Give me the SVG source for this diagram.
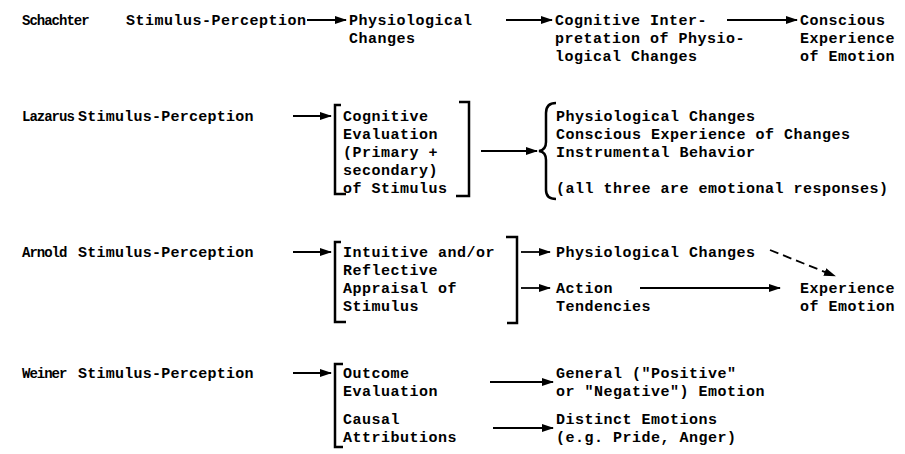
<svg xmlns="http://www.w3.org/2000/svg" width="905" height="454" viewBox="0 0 905 454">
<defs>
<marker id="ah" markerUnits="userSpaceOnUse" markerWidth="12" markerHeight="10" refX="11" refY="5" orient="auto">
<path d="M0,1 L12,5 L0,9 z" fill="#000"/>
</marker>
<style>
text { font-family: "Liberation Mono", "DejaVu Sans Mono", monospace; font-size: 15px; font-weight: bold; letter-spacing: 0.5px; fill: #000; }
text.n { font-size: 14px; letter-spacing: -1px; }
.c { stroke: #000; stroke-width: 1.8; fill: none; marker-end: url(#ah); }
.d { stroke-dasharray: 9 5; }
.br { stroke: #000; stroke-width: 2.5; fill: none; }
</style>
</defs>
<rect width="905" height="454" fill="#fff"/>

<g id="schachter">
<text class="n" x="22" y="25">Schachter</text>
<text x="126" y="25">Stimulus-Perception</text>
<text x="349" y="25">Physiological</text>
<text x="349" y="43">Changes</text>
<text x="555" y="25">Cognitive Inter-</text>
<text x="555" y="43">pretation of Physio-</text>
<text x="555" y="61">logical Changes</text>
<text x="800" y="25">Conscious</text>
<text x="800" y="43">Experience</text>
<text x="800" y="61">of Emotion</text>
</g>

<g id="lazarus">
<text class="n" x="22" y="121">Lazarus</text>
<text x="78" y="121" textLength="176">Stimulus-Perception</text>
<path class="br" d="M341,105 L335,105 L335,194 L346,194"/>
<text x="343" y="121">Cognitive</text>
<text x="343" y="139">Evaluation</text>
<text x="343" y="157">(Primary +</text>
<text x="343" y="175">secondary)</text>
<text x="343" y="193">of Stimulus</text>
<path class="br" d="M459,102 L469,102 L469,196 L456,196"/>
<path class="br" d="M556,103 Q546,103 546,113 L546,142 Q546,150 539,151 Q546,152 546,160 L546,190 Q546,199 556,199"/>
<text x="556" y="121">Physiological Changes</text>
<text x="556" y="139">Conscious Experience of Changes</text>
<text x="556" y="157">Instrumental Behavior</text>
<text x="556" y="193">(all three are emotional responses)</text>
</g>

<g id="arnold">
<text class="n" x="22" y="257">Arnold</text>
<text x="78" y="257" textLength="176">Stimulus-Perception</text>
<path class="br" d="M341,242 L335,242 L335,322 L346,322"/>
<text x="343" y="257">Intuitive and/or</text>
<text x="343" y="275">Reflective</text>
<text x="343" y="293">Appraisal of</text>
<text x="343" y="311">Stimulus</text>
<path class="br" d="M506,237 L517,237 L517,323 L507,323"/>
<text x="556" y="257">Physiological Changes</text>
<text x="556" y="293">Action</text>
<text x="556" y="311">Tendencies</text>
<text x="800" y="293">Experience</text>
<text x="800" y="311">of Emotion</text>
</g>

<g id="weiner">
<text class="n" x="22" y="378">Weiner</text>
<text x="78" y="378" textLength="176">Stimulus-Perception</text>
<path class="br" d="M343,364 L335,364 L335,447 L343,447"/>
<text x="343" y="378">Outcome</text>
<text x="343" y="396">Evaluation</text>
<text x="343" y="424">Causal</text>
<text x="343" y="442">Attributions</text>
<text x="556" y="378">General ("Positive"</text>
<text x="556" y="396">or "Negative") Emotion</text>
<text x="556" y="424">Distinct Emotions</text>
<text x="556" y="442">(e.g. Pride, Anger)</text>
</g>

<g id="connectors">
<path class="c" d="M307,20 L346,20"/>
<path class="c" d="M506,20 L552,20"/>
<path class="c" d="M727,20 L797,20"/>
<path class="c" d="M293,116 L331,116"/>
<path class="c" d="M481,151 L537,151"/>
<path class="c" d="M293,252 L331,252"/>
<path class="c" d="M521,252 L550,252"/>
<path class="c" d="M521,288 L550,288"/>
<path class="c" d="M640,288 L780,288"/>
<path class="c d" d="M770,250 L835,276"/>
<path class="c" d="M293,373 L331,373"/>
<path class="c" d="M490,382 L553,382"/>
<path class="c" d="M493,428 L553,428"/>
</g>
</svg>
